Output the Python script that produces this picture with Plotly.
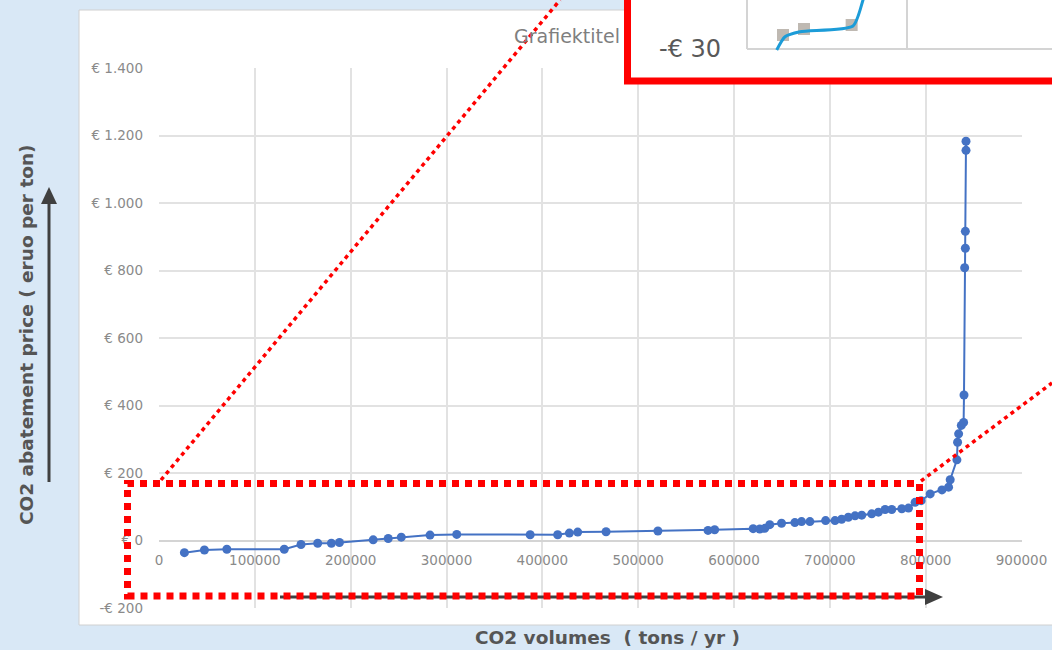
import plotly.graph_objects as go

# ---- figure geometry (pixels) ----
W, H = 1052, 650


def fx(p):
    return p / W


def fy(p):
    return 1 - p / H


# ---- main abatement curve ----
volumes = [26500, 47400, 70800, 130700, 148200, 165600, 179900, 188300, 223500,
           239200, 252800, 282800, 310700, 387300, 416000, 428200, 436900, 466500,
           520600, 572900, 579800, 620000, 626900, 632100, 637300, 649600, 663500,
           670500, 679200, 695600, 705400, 712300, 719300, 726300, 733300, 743700,
           750700, 757700, 764600, 775100, 782100, 789000, 795300, 804700, 817000,
           823900, 825600, 832600, 833300, 834400, 837200, 839600, 840000, 840700,
           841400, 841400, 842100, 842100]
prices = [-36, -28, -26, -26, -12, -8, -8, -6, 2,
          6, 10, 16, 18, 17, 17, 22, 25, 26,
          28, 30, 32, 35, 34, 36, 47, 51, 53,
          56, 56, 59, 59, 63, 69, 73, 75, 79,
          84, 92, 92, 94, 96, 113, 118, 138, 150,
          158, 180, 239, 291, 316, 341, 350, 431, 808,
          866, 916, 1156, 1183]

x_ticks = [0, 100000, 200000, 300000, 400000, 500000, 600000, 700000, 800000, 900000]
x_labels = [str(v) for v in x_ticks]
y_ticks = [-200, 0, 200, 400, 600, 800, 1000, 1200, 1400]
y_labels = ["-€ 200", "€ 0", "€ 200", "€ 400", "€ 600", "€ 800", "€ 1.000", "€ 1.200", "€ 1.400"]

# ---- zoomed detail panel ----
detail_x = [18560, 23750, 33125, 66250, 72500, 77500]
detail_y = [-30.5, -23.9, -21.4, -18.5, -5.5, 10]
detail_sq_x = [22500, 35625, 65400]
detail_sq_y = [-23, -20, -18]

X_RANGE = [0, 900000]
Y_RANGE = [-200, 1400]
X_DOM = [fx(159), fx(1021.5)]
Y_DOM = [fy(608), fy(68)]

# x axis crosses at price 0
x_axis_pos = Y_DOM[0] + (0 - Y_RANGE[0]) / (Y_RANGE[1] - Y_RANGE[0]) * (Y_DOM[1] - Y_DOM[0])

# detail axes: inner frame starts at 747 px, 160 px per 100000, 2 px per unit
X2_DOM = [fx(615), 1.0]
Y2_DOM = [fy(95), 1.0]
X2_RANGE = [-(747 - 615) / 160 * 100000, (1052 - 747) / 160 * 100000]
Y2_RANGE = [-30 - (95 - 49) / 2, -30 + 49 / 2]

FONT = "DejaVu Sans"
GRID = "#e2e2e2"
DARK = "#404040"
RED = "#ff0000"

fig = go.Figure()

fig.add_trace(go.Scatter(
    x=volumes, y=prices, mode="lines+markers",
    line=dict(color="#4472c4", width=2),
    marker=dict(color="#4472c4", size=9),
    xaxis="x", yaxis="y", hoverinfo="skip",
))

fig.add_trace(go.Scatter(
    x=detail_sq_x, y=detail_sq_y, mode="markers",
    marker=dict(symbol="square", size=12, color="#bfb9b2"),
    xaxis="x2", yaxis="y2", hoverinfo="skip",
))
fig.add_trace(go.Scatter(
    x=detail_x, y=detail_y, mode="lines",
    line=dict(color="#1c9cd8", width=3, shape="spline", smoothing=0.6),
    xaxis="x2", yaxis="y2", hoverinfo="skip",
))

shapes = []
# chart area card
shapes.append(dict(type="rect", xref="paper", yref="paper", layer="below",
                   x0=fx(79), x1=fx(1070), y0=fy(625), y1=fy(10),
                   fillcolor="white", line=dict(color="#d0d0d0", width=1)))

# detail panel box and its frame lines
shapes.append(dict(type="rect", xref="x2", yref="y2", layer="below",
                   x0=(627.5 - 747) / 160 * 100000, x1=X2_RANGE[1] * 2,
                   y0=-30 - (81 - 49) / 2, y1=40,
                   fillcolor="white", line=dict(color=RED, width=7)))
for seg in [((0, -30), (X2_RANGE[1] * 2, -30)),
            ((0, -30), (0, 40)),
            ((100000, -30), (100000, 40))]:
    shapes.append(dict(type="line", xref="x2", yref="y2", layer="below",
                       x0=seg[0][0], y0=seg[0][1], x1=seg[1][0], y1=seg[1][1],
                       line=dict(color="#d4d4d4", width=2)))

# bottom arrow
shapes.append(dict(type="line", xref="paper", yref="paper", layer="above",
                   x0=fx(280), y0=fy(597), x1=fx(930), y1=fy(597),
                   line=dict(color=DARK, width=3)))
shapes.append(dict(type="path", xref="paper", yref="paper", layer="above",
                   path=f"M {fx(925)},{fy(589)} L {fx(943)},{fy(597)} L {fx(925)},{fy(605)} Z",
                   fillcolor=DARK, line=dict(width=0)))
# left arrow
shapes.append(dict(type="line", xref="paper", yref="paper", layer="above",
                   x0=fx(49), y0=fy(482), x1=fx(49), y1=fy(200),
                   line=dict(color=DARK, width=3)))
shapes.append(dict(type="path", xref="paper", yref="paper", layer="above",
                   path=f"M {fx(41)},{fy(204)} L {fx(49)},{fy(187)} L {fx(57)},{fy(204)} Z",
                   fillcolor=DARK, line=dict(width=0)))

# highlight box
shapes.append(dict(type="rect", xref="paper", yref="paper", layer="above",
                   x0=fx(127.5), x1=fx(919.5), y0=fy(596), y1=fy(483.5),
                   line=dict(color=RED, width=7, dash="7px,6px")))
# zoom connector lines
shapes.append(dict(type="line", xref="paper", yref="paper", layer="above",
                   x0=fx(161), y0=fy(480), x1=fx(560), y1=fy(0),
                   line=dict(color=RED, width=3.5, dash="4px,4px")))
shapes.append(dict(type="line", xref="paper", yref="paper", layer="above",
                   x0=fx(921), y0=fy(481), x1=fx(1052), y1=fy(383),
                   line=dict(color=RED, width=3.5, dash="4px,4px")))

annotations = [
    dict(text="Grafiektitel", xref="paper", yref="paper", x=fx(567), y=fy(36),
         xanchor="center", yanchor="middle", showarrow=False,
         font=dict(family=FONT, size=19, color="#7f7f7f")),
    dict(text="<b>CO2 abatement price ( eruo per ton)</b>", xref="paper", yref="paper",
         x=fx(27), y=fy(335), xanchor="center", yanchor="middle", textangle=-90,
         showarrow=False, font=dict(family=FONT, size=18.5, color="#555555")),
    dict(text="<b>CO2 volumes \u00a0( tons / yr )</b>", xref="paper", yref="paper",
         x=fx(608), y=fy(637), xanchor="center", yanchor="middle", showarrow=False,
         font=dict(family=FONT, size=18.5, color="#555555")),
    dict(text="-€ 30", xref="x2", yref="y2", x=0, y=-30, xanchor="right", yanchor="middle",
         xshift=-24, yshift=0, showarrow=False,
         font=dict(family=FONT, size=24, color="#595959")),
]

tick_font = dict(family=FONT, size=13.5, color="#8a8a8a")

fig.update_layout(
    width=W, height=H, autosize=False,
    margin=dict(l=0, r=0, t=0, b=0, pad=0),
    paper_bgcolor="#d9e8f6", plot_bgcolor="rgba(0,0,0,0)",
    showlegend=False,
    shapes=shapes, annotations=annotations,
    xaxis=dict(domain=X_DOM, range=X_RANGE, tickvals=x_ticks, ticktext=x_labels,
               showgrid=True, gridcolor=GRID, gridwidth=1.5, zeroline=False,
               showline=False, anchor="free", position=x_axis_pos, ticks="",
               tickfont=tick_font, ticklabelstandoff=10, automargin=False,
               fixedrange=True),
    yaxis=dict(domain=Y_DOM, range=Y_RANGE, tickvals=y_ticks, ticktext=y_labels,
               showgrid=True, gridcolor=GRID, gridwidth=1.5, zeroline=True,
               zerolinecolor="#d4d4d4", zerolinewidth=1.5, showline=False,
               anchor="x", ticks="", tickfont=tick_font, ticklabelstandoff=15,
               automargin=False, fixedrange=True),
    xaxis2=dict(domain=X2_DOM, range=X2_RANGE, anchor="y2", visible=False,
                automargin=False, fixedrange=True),
    yaxis2=dict(domain=Y2_DOM, range=Y2_RANGE, anchor="x2", visible=False,
                automargin=False, fixedrange=True),
)

fig.write_html("out.html")
